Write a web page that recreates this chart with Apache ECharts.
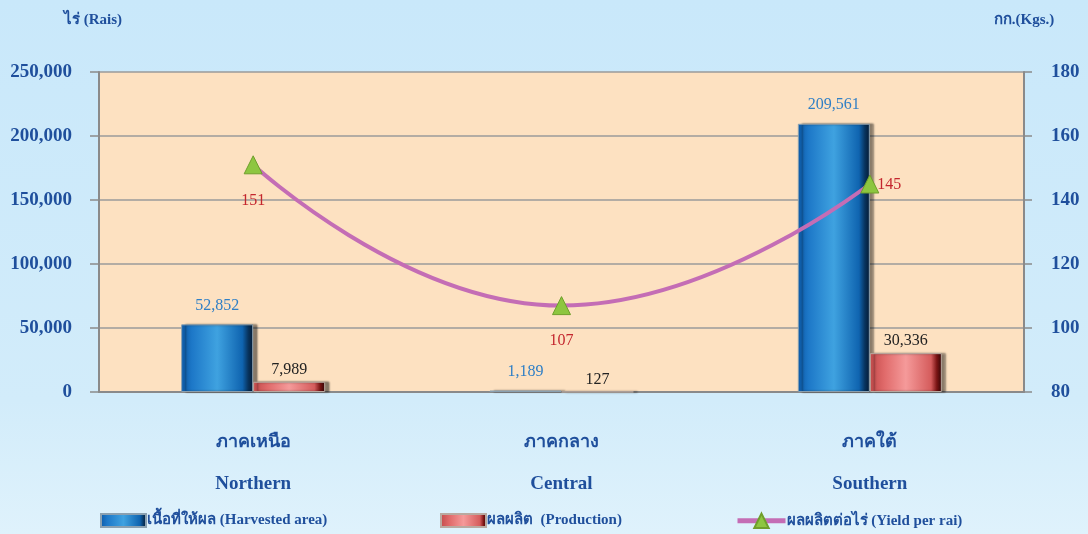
<!DOCTYPE html>
<html><head><meta charset="utf-8">
<script src="https://cdn.jsdelivr.net/npm/echarts@6/dist/echarts.min.js"></script>
<style>html,body{margin:0;padding:0;background:#cde9f9;}#c{width:1088px;height:534px;}</style>
</head><body><div id="c"></div>
<script>
const categoriesTh = ['ภาคเหนือ', 'ภาคกลาง', 'ภาคใต้'];
const categoriesEn = ['Northern', 'Central', 'Southern'];
const harvestedArea = [52852, 1189, 209561];
const production = [7989, 127, 30336];
const yieldPerRai = [151, 107, 145];
const leftTicks = [0, 50000, 100000, 150000, 200000, 250000];
const rightTicks = [80, 100, 120, 140, 160, 180];

const FONT = '"Liberation Serif", "Times New Roman", "DejaVu Serif", serif';
const AXIS_BLUE = '#1f4f9c';
const fmt = v => v.toLocaleString('en-US');

const chart = echarts.init(document.getElementById('c'), null, {renderer: 'canvas'});
const blueGrad = new echarts.graphic.LinearGradient(0, 0, 1, 0, [
  {offset: 0, color: '#0c5aa8'}, {offset: 0.15, color: '#1d78c8'},
  {offset: 0.5, color: '#3fa2e0'}, {offset: 0.85, color: '#0f64b0'},
  {offset: 0.93, color: '#08345f'}, {offset: 1, color: '#041a33'}]);
const redGrad = new echarts.graphic.LinearGradient(0, 0, 1, 0, [
  {offset: 0, color: '#c24a4a'}, {offset: 0.2, color: '#e06a6a'},
  {offset: 0.5, color: '#f59a9a'}, {offset: 0.85, color: '#d55c5c'},
  {offset: 0.93, color: '#7a1414'}, {offset: 1, color: '#300404'}]);

const legendText = {fontFamily: FONT, fontWeight: 'bold', fontSize: 15, color: AXIS_BLUE, padding: [0, 0, 0, -4]};

const option = {
  backgroundColor: new echarts.graphic.LinearGradient(0, 0, 0, 1, [
    {offset: 0, color: '#c9e8fa'}, {offset: 0.75, color: '#d2ecfa'}, {offset: 1, color: '#dff2fc'}]),
  textStyle: {fontFamily: FONT},
  grid: {left: 99, right: 64, top: 72, bottom: 142, show: true, backgroundColor: '#fde1c1', borderWidth: 0},
  legend: [
    {data: [{name: 'เนื้อที่ให้ผล (Harvested area)', icon: 'rect'}], left: 95, bottom: 1, itemWidth: 45, itemHeight: 13,
     textStyle: legendText},
    {data: [{name: 'ผลผลิต  (Production)', icon: 'rect'}], left: 435, bottom: 1, itemWidth: 45, itemHeight: 13,
     textStyle: legendText},
    {data: ['ผลผลิตต่อไร่ (Yield per rai)'], left: 730, bottom: 0, itemWidth: 48, itemHeight: 18,
     lineStyle: {width: 5}, textStyle: legendText}
  ],
  xAxis: {
    type: 'category',
    data: categoriesEn.map((e, i) => categoriesTh[i] + '\n' + e),
    axisLine: {lineStyle: {color: '#8a8a8a', width: 2}},
    axisTick: {show: false},
    axisLabel: {
      margin: 29, interval: 0,
      formatter: v => { const p = v.split('\n'); return '{a|' + p[0] + '}\n{b|' + p[1] + '}'; },
      rich: {
        a: {fontFamily: FONT, fontWeight: 'bold', fontSize: 18, color: AXIS_BLUE, lineHeight: 42},
        b: {fontFamily: FONT, fontWeight: 'bold', fontSize: 19, color: AXIS_BLUE, lineHeight: 42}
      }
    }
  },
  yAxis: [
    {
      type: 'value', min: leftTicks[0], max: leftTicks[leftTicks.length - 1], interval: 50000,
      name: 'ไร่ (Rais)', nameLocation: 'end', nameGap: 44,
      nameTextStyle: {fontFamily: FONT, fontWeight: 'bold', fontSize: 15, color: AXIS_BLUE, align: 'center', padding: [0, 0, 0, -12]},
      axisLine: {show: true, lineStyle: {color: '#8a8a8a', width: 2}},
      axisTick: {show: true, length: 9, lineStyle: {color: '#8a8a8a', width: 1.5}},
      splitLine: {lineStyle: {color: '#9a9a9a', width: 1.5}},
      axisLabel: {fontFamily: FONT, fontWeight: 'bold', fontSize: 19, color: AXIS_BLUE, margin: 27,
        formatter: v => fmt(v)}
    },
    {
      type: 'value', min: rightTicks[0], max: rightTicks[rightTicks.length - 1], interval: 20,
      name: 'กก.(Kgs.)', nameLocation: 'end', nameGap: 44,
      nameTextStyle: {fontFamily: FONT, fontWeight: 'bold', fontSize: 15, color: AXIS_BLUE, align: 'center', padding: [0, 0, 0, 0]},
      axisLine: {show: true, lineStyle: {color: '#8a8a8a', width: 2}},
      axisTick: {show: true, length: 8, lineStyle: {color: '#8a8a8a', width: 1.5}},
      splitLine: {show: false},
      axisLabel: {fontFamily: FONT, fontWeight: 'bold', fontSize: 19, color: AXIS_BLUE, margin: 27}
    }
  ],
  series: [
    {
      name: 'เนื้อที่ให้ผล (Harvested area)', type: 'bar', barWidth: 72, barGap: '0%',
      data: harvestedArea,
      itemStyle: {color: blueGrad, borderColor: '#8aa0b0', borderWidth: 1, shadowColor: 'rgba(0,0,0,0.45)', shadowOffsetX: 4, shadowBlur: 2},
      label: {show: true, position: 'top', distance: 11, color: '#2f7fc6', fontFamily: FONT, fontSize: 16, formatter: p => fmt(p.value)},
      z: 2
    },
    {
      name: 'ผลผลิต  (Production)', type: 'bar', barWidth: 72,
      data: production,
      itemStyle: {color: redGrad, borderColor: '#b9a9a0', borderWidth: 1, shadowColor: 'rgba(0,0,0,0.45)', shadowOffsetX: 4, shadowBlur: 2},
      label: {show: true, position: 'top', distance: 4, color: '#222', fontFamily: FONT, fontSize: 16, formatter: p => fmt(p.value)},
      z: 2
    },
    {
      name: 'ผลผลิตต่อไร่ (Yield per rai)', type: 'line', yAxisIndex: 1, smooth: 0.5,
      data: yieldPerRai.map((v, i) => i === 2
        ? {value: v, label: {position: 'right', distance: 0, offset: [-2, 1]}}
        : {value: v}),
      lineStyle: {color: '#c46db5', width: 4},
      symbol: 'triangle', symbolSize: 18,
      itemStyle: {color: '#8dc640', borderColor: '#6f9f2c', borderWidth: 1},
      label: {show: true, position: 'bottom', distance: 18, color: '#c4262e', fontFamily: FONT, fontSize: 16},
      z: 5
    }
  ]
};
chart.setOption(option);
</script>
</body></html>
